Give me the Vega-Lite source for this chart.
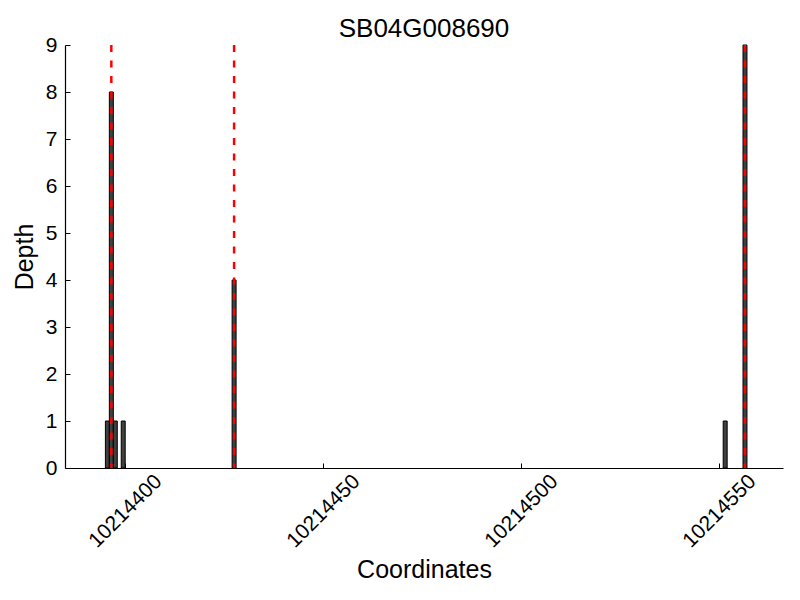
{
  "$schema": "https://vega.github.io/schema/vega-lite/v6.json",
  "autosize": "none",
  "width": 718,
  "height": 423,
  "padding": {"left": 65, "top": 45, "right": 17, "bottom": 132},
  "background": "white",
  "title": {"text": "SB04G008690", "fontSize": 26, "font": "Liberation Sans", "fontWeight": "normal", "color": "black", "offset": -8},
  "config": {
    "view": {"stroke": null},
    "font": "Liberation Sans",
    "axis": {"grid": false, "domainColor": "black", "tickColor": "black", "labelColor": "black", "titleColor": "black", "labelFont": "Liberation Sans", "titleFont": "Liberation Sans", "titleFontWeight": "normal", "labelFontSize": 21, "titleFontSize": 25, "tickSize": -5, "domainWidth": 1.2, "tickWidth": 1}
  },
  "datasets": {
    "depth": [
      {"start": 10214395, "end": 10214396, "depth": 1},
      {"start": 10214396, "end": 10214397, "depth": 8},
      {"start": 10214397, "end": 10214398, "depth": 1},
      {"start": 10214399, "end": 10214400, "depth": 1},
      {"start": 10214427, "end": 10214428, "depth": 4},
      {"start": 10214551, "end": 10214552, "depth": 1},
      {"start": 10214556, "end": 10214557, "depth": 9}
    ],
    "marks": [
      {"pos": 10214396.5},
      {"pos": 10214427.5},
      {"pos": 10214556.5}
    ]
  },
  "layer": [
    {
      "data": {"name": "depth"},
      "mark": {"type": "bar", "fill": "#404040", "stroke": "black", "strokeWidth": 1},
      "encoding": {
        "x": {"field": "start", "type": "quantitative", "scale": {"domain": [10214384.8, 10214566.1], "nice": false, "zero": false},
          "axis": {"title": "Coordinates", "values": [10214400, 10214450, 10214500, 10214550], "format": "d", "labelAngle": -45, "labelAlign": "center", "labelBaseline": "middle", "labelPadding": 48, "labelOverlap": false, "labelFlush": false, "titlePadding": 6}},
        "x2": {"field": "end"},
        "y": {"field": "depth", "type": "quantitative", "scale": {"domain": [0, 9], "nice": false, "padding": 0},
          "axis": {"title": "Depth", "values": [0,1,2,3,4,5,6,7,8,9], "format": "d", "labelPadding": 13, "titlePadding": 8}},
        "y2": {"datum": 0}
      }
    },
    {
      "data": {"name": "marks"},
      "mark": {"type": "rule", "color": "red", "strokeWidth": 2.5, "strokeDash": [7, 8.5]},
      "encoding": {
        "x": {"field": "pos", "type": "quantitative"}
      }
    }
  ]
}
